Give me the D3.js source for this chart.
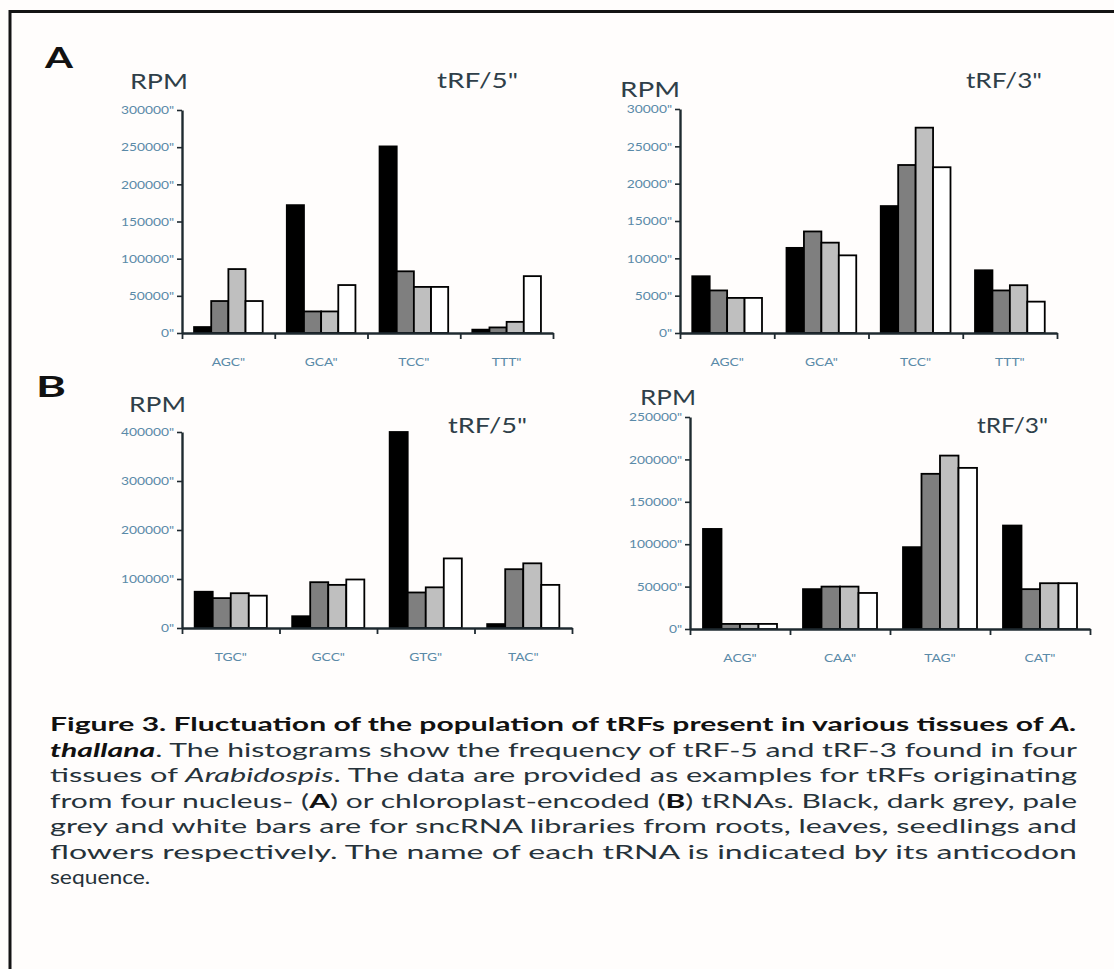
<!DOCTYPE html>
<html>
<head>
<meta charset="utf-8">
<script src="https://cdn.jsdelivr.net/npm/d3@7"></script>
<style>
  body { margin: 0; background: #fffdfc; }
  svg { display: block; }
</style>
</head>
<body>
<div id="chart"></div>
<script>
/* DATA */
const series = ["roots", "leaves", "seedlings", "flowers"];

const catsA = ["AGC", "GCA", "TCC", "TTT"];
const catsB5 = ["TGC", "GCC", "GTG", "TAC"];
const catsB3 = ["ACG", "CAA", "TAG", "CAT"];

// one row per tRNA, columns in series order (roots, leaves, seedlings, flowers)
const a5Values = [
  [8000, 43000, 86000, 43000],
  [172000, 29000, 29000, 64500],
  [251000, 83000, 62000, 62000],
  [4500, 7500, 15000, 76500]
];
const a3Values = [
  [7600, 5700, 4700, 4700],
  [11400, 13600, 12100, 10400],
  [17000, 22500, 27500, 22200],
  [8400, 5700, 6400, 4200]
];
const b5Values = [
  [74000, 61000, 71000, 66000],
  [24000, 93500, 88000, 99000],
  [400000, 72500, 83000, 142000],
  [8000, 120000, 132000, 88000]
];
const b3Values = [
  [118000, 6000, 6000, 6000],
  [47000, 50000, 50000, 42500],
  [96500, 183000, 204500, 190000],
  [122000, 47000, 54000, 54000]
];

const ticksA5 = [0, 50000, 100000, 150000, 200000, 250000, 300000];
const ticksA3 = [0, 5000, 10000, 15000, 20000, 25000, 30000];
const ticksB5 = [0, 100000, 200000, 300000, 400000];
const ticksB3 = [0, 50000, 100000, 150000, 200000, 250000];

/* STYLE / LAYOUT */
const width = 1114, height = 969;
const fills = ["#000000", "#7f7f7f", "#bfbfbf", "#ffffff"];
const tickColor = "#5a8aa8", labelColor = "#2f3f49", axisColor = "#1f2a30";
const stretch = 1.2; // the source picture is widened horizontally

const panels = [
  { cats: catsA, values: a5Values, ticks: ticksA5, x0: 182, x1: 553, yTop: 110, yZero: 333 },
  { cats: catsA, values: a3Values, ticks: ticksA3, x0: 680, x1: 1057, yTop: 109, yZero: 333 },
  { cats: catsB5, values: b5Values, ticks: ticksB5, x0: 182, x1: 572, yTop: 432, yZero: 628 },
  { cats: catsB3, values: b3Values, ticks: ticksB3, x0: 690, x1: 1090, yTop: 417, yZero: 629 }
];

const labels = [
  { t: "A", x: 45, y: 68, size: 28, w: 28, bold: true, color: "#111" },
  { t: "RPM", x: 130, y: 89, size: 22, w: 58 },
  { t: "tRF/5\"", x: 437, y: 88, size: 22, w: 81 },
  { t: "RPM", x: 620, y: 97, size: 22, w: 60 },
  { t: "tRF/3\"", x: 966, y: 88, size: 22, w: 76 },
  { t: "B", x: 36, y: 397, size: 28, w: 30, bold: true, color: "#111" },
  { t: "RPM", x: 129, y: 412, size: 22, w: 57 },
  { t: "tRF/5\"", x: 448, y: 433, size: 22, w: 79 },
  { t: "RPM", x: 640, y: 405, size: 22, w: 56 },
  { t: "tRF/3\"", x: 977, y: 433, size: 22, w: 71 }
];

// caption lines: [text, style] pieces
const caption = [
  [["Figure 3. Fluctuation of the population of tRFs present in various tissues of ", "b"], ["A.", "bi"]],
  [["thallana", "bi"], [". The histograms show the frequency of tRF-5 and tRF-3 found in four", ""]],
  [["tissues of ", ""], ["Arabidospis", "i"], [". The data are provided as examples for tRFs originating", ""]],
  [["from four nucleus- (", ""], ["A", "b"], [") or chloroplast-encoded (", ""], ["B", "b"], [") tRNAs. Black, dark grey, pale", ""]],
  [["grey and white bars are for sncRNA libraries from roots, leaves, seedlings and", ""]],
  [["flowers respectively. The name of each tRNA is indicated by its anticodon", ""]],
  [["sequence.", ""]]
];

const svg = d3.select("#chart").append("svg")
  .attr("width", width)
  .attr("height", height)
  .style("font-family", "Lato, 'Open Sans', sans-serif");

// page frame (top and left edge)
svg.append("path")
  .attr("d", `M10,${height} V11.5 H${width}`)
  .attr("fill", "none")
  .attr("stroke", "#141414")
  .attr("stroke-width", 3);

function widen(sel) {
  sel.each(function() {
    const w = this.getComputedTextLength();
    d3.select(this).attr("textLength", w * stretch).attr("lengthAdjust", "spacingAndGlyphs");
  });
}

panels.forEach(p => {
  const g = svg.append("g");

  const x = d3.scaleBand().domain(p.cats).range([p.x0, p.x1]);
  const xSub = d3.scaleBand().domain(series)
    .range([x.bandwidth() * 0.13, x.bandwidth() * 0.87]);
  const y = d3.scaleLinear()
    .domain([0, d3.max(p.ticks)])
    .range([p.yZero, p.yTop]);

  // bars
  const groups = g.selectAll("g.cat")
    .data(p.cats.map((c, i) => ({ cat: c, vals: p.values[i] })))
    .join("g")
    .attr("class", "cat")
    .attr("transform", d => `translate(${x(d.cat)},0)`);

  groups.selectAll("rect")
    .data(d => d.vals.map((v, j) => ({ s: series[j], v, j })))
    .join("rect")
    .attr("x", d => xSub(d.s))
    .attr("width", xSub.bandwidth())
    .attr("y", d => y(d.v))
    .attr("height", d => y(0) - y(d.v))
    .attr("fill", d => fills[d.j])
    .attr("stroke", "#000")
    .attr("stroke-width", 1.8);

  // y axis
  const yAxis = g.append("g")
    .attr("transform", `translate(${p.x0},0)`)
    .call(d3.axisLeft(y)
      .tickValues(p.ticks)
      .tickSize(5)
      .tickSizeOuter(0)
      .tickPadding(3)
      .tickFormat(d => d + "\""));
  yAxis.select(".domain").attr("stroke", axisColor).attr("stroke-width", 2.4);
  yAxis.selectAll(".tick line").attr("stroke", axisColor).attr("stroke-width", 1.6);
  yAxis.selectAll(".tick text")
    .attr("fill", tickColor)
    .attr("font-size", 11.5)
    .attr("font-family", "Lato, sans-serif")
    .call(widen);

  // x axis: boundary ticks between categories
  const xBound = d3.scaleLinear().domain([0, p.cats.length]).range([p.x0, p.x1]);
  const xAxis = g.append("g")
    .attr("transform", `translate(0,${p.yZero})`)
    .call(d3.axisBottom(xBound)
      .tickValues(d3.range(p.cats.length + 1))
      .tickSize(6)
      .tickSizeOuter(0)
      .tickFormat(""));
  xAxis.select(".domain").attr("stroke", axisColor).attr("stroke-width", 2.4);
  xAxis.selectAll(".tick line").attr("stroke", axisColor).attr("stroke-width", 1.8);

  // category names
  const xLab = g.append("g")
    .attr("transform", `translate(0,${p.yZero + 27})`)
    .call(d3.axisBottom(x).tickSize(0).tickPadding(0).tickFormat(d => d + "\""));
  xLab.select(".domain").remove();
  xLab.selectAll(".tick text")
    .attr("fill", tickColor)
    .attr("font-size", 11.5)
    .attr("font-family", "Lato, sans-serif")
    .attr("dy", "0.55em")
    .call(widen);
});

// panel letters, units and titles
svg.selectAll("text.lab")
  .data(labels)
  .join("text")
  .attr("class", "lab")
  .attr("x", d => d.x)
  .attr("y", d => d.y)
  .attr("font-size", d => d.size)
  .attr("font-weight", d => d.bold ? 700 : 400)
  .attr("fill", d => d.color || labelColor)
  .attr("textLength", d => d.w)
  .attr("lengthAdjust", "spacingAndGlyphs")
  .text(d => d.t);

// caption
const capX = 50, capW = 1027, capY = 731, capStep = 25.5;
caption.forEach((line, i) => {
  const t = svg.append("text")
    .attr("x", capX)
    .attr("y", capY + i * capStep)
    .attr("font-size", 19)
    .attr("fill", "#26323a");
  line.forEach(([s, st]) => {
    t.append("tspan")
      .attr("font-weight", st.includes("b") ? 700 : 400)
      .attr("font-style", st.includes("i") ? "italic" : "normal")
      .attr("fill", st.includes("b") ? "#111" : null)
      .text(s);
  });
  if (i < caption.length - 1) {
    t.attr("textLength", capW).attr("lengthAdjust", "spacingAndGlyphs");
  } else {
    widen(t);
  }
});
</script>
</body>
</html>
